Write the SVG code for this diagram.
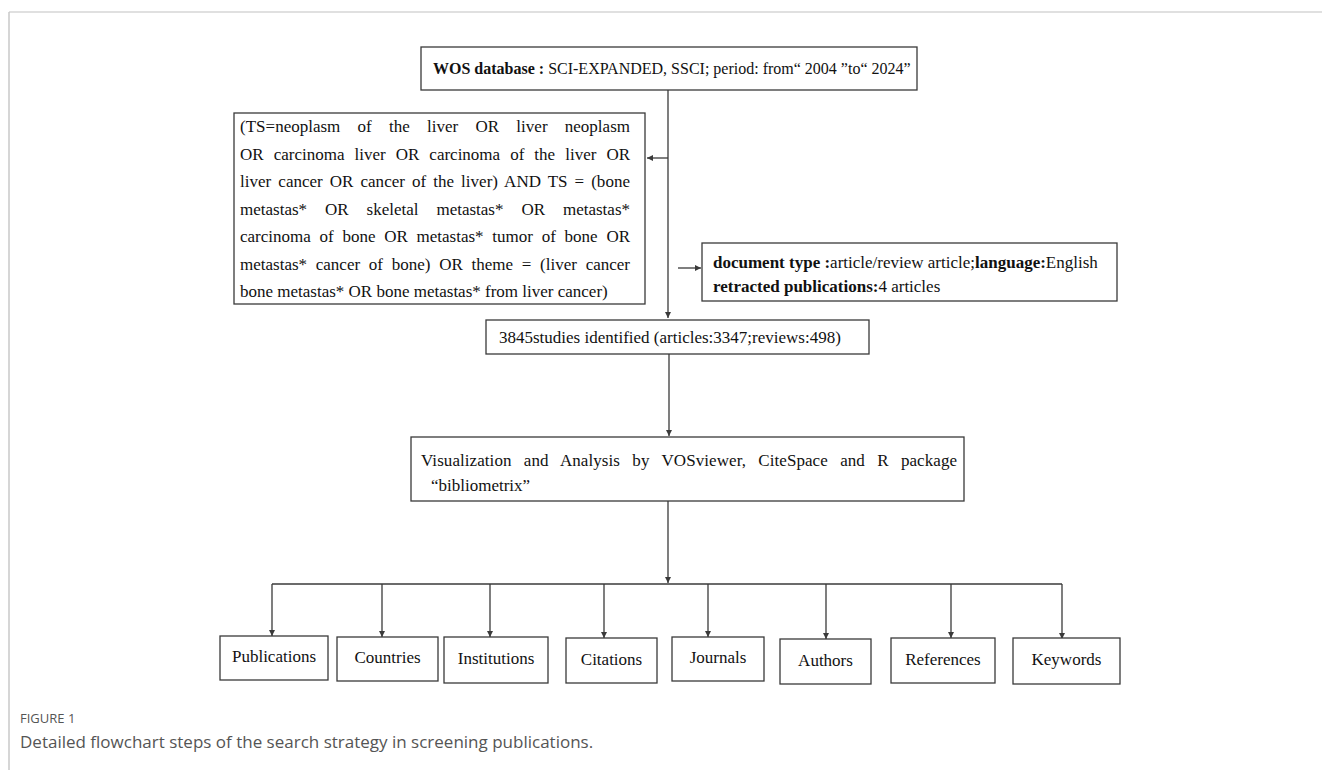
<svg xmlns="http://www.w3.org/2000/svg" width="1322" height="770" viewBox="0 0 1322 770">
<style>
.box{fill:#fff;stroke:#3a3a3a;stroke-width:1.3}
.t{font-family:"Liberation Serif","Times New Roman",serif;font-size:17px;fill:#111}
.b{font-weight:bold}
.lbl{font-family:"Liberation Serif","Times New Roman",serif;font-size:17px;fill:#111;text-anchor:middle}
.ln{fill:none;stroke:#3a3a3a;stroke-width:1.3}
.cap1{font-family:"Open Sans",sans-serif;font-size:13px;fill:#555}
.cap2{font-family:"Open Sans",sans-serif;font-size:17px;fill:#555}
</style>
<defs>
<marker id="ah" markerUnits="userSpaceOnUse" markerWidth="8" markerHeight="8" refX="6" refY="3" orient="auto">
<path d="M0,0 L6,3 L0,6 Z" fill="#3a3a3a"/>
</marker>
</defs>
<rect width="1322" height="770" fill="#fff"/>
<g id="frame">
<line x1="9" y1="12" x2="1322" y2="12" stroke="#e0e0e0" stroke-width="2"/>
<line x1="9" y1="12" x2="9" y2="770" stroke="#c8c8c8" stroke-width="1.5"/>
</g>
<g id="connectors">
<line class="ln" x1="668" y1="90" x2="668" y2="318" marker-end="url(#ah)"/>
<line class="ln" x1="668" y1="158" x2="647" y2="158" marker-end="url(#ah)"/>
<line class="ln" x1="678" y1="268" x2="701" y2="268" marker-end="url(#ah)"/>
<line class="ln" x1="669" y1="354" x2="669" y2="436" marker-end="url(#ah)"/>
<line class="ln" x1="668" y1="501" x2="668" y2="583" marker-end="url(#ah)"/>
<line class="ln" x1="272" y1="584" x2="1062" y2="584"/>
<line class="ln" x1="272" y1="584" x2="272" y2="636" marker-end="url(#ah)"/>
<line class="ln" x1="382" y1="584" x2="382" y2="637" marker-end="url(#ah)"/>
<line class="ln" x1="490" y1="584" x2="490" y2="637" marker-end="url(#ah)"/>
<line class="ln" x1="604" y1="584" x2="604" y2="638" marker-end="url(#ah)"/>
<line class="ln" x1="708" y1="584" x2="708" y2="637" marker-end="url(#ah)"/>
<line class="ln" x1="826" y1="584" x2="826" y2="639" marker-end="url(#ah)"/>
<line class="ln" x1="951" y1="584" x2="951" y2="638" marker-end="url(#ah)"/>
<line class="ln" x1="1062" y1="584" x2="1062" y2="639" marker-end="url(#ah)"/>
</g>
<g id="wos">
<rect class="box" x="421" y="47" width="496" height="43"/>
<text class="t" x="433" y="74" font-size="16" style="font-size:16px"><tspan class="b">WOS database :</tspan> SCI-EXPANDED, SSCI; period: from“ 2004 ”to“ 2024”</text>
</g>
<g id="query">
<rect class="box" x="234" y="113" width="411" height="191"/>
<text class="t" x="240" y="132" textLength="390" lengthAdjust="spacing" word-spacing="13">(TS=neoplasm of the liver OR liver neoplasm</text>
<text class="t" x="240" y="159.5" textLength="390" lengthAdjust="spacing" word-spacing="5.8">OR carcinoma liver OR carcinoma of the liver OR</text>
<text class="t" x="240" y="187" textLength="390" lengthAdjust="spacing" word-spacing="2.7">liver cancer OR cancer of the liver) AND TS = (bone</text>
<text class="t" x="240" y="214.5" textLength="390" lengthAdjust="spacing" word-spacing="13.7">metastas* OR skeletal metastas* OR metastas*</text>
<text class="t" x="240" y="242" textLength="390" lengthAdjust="spacing" word-spacing="4.5">carcinoma of bone OR metastas* tumor of bone OR</text>
<text class="t" x="240" y="269.5" textLength="390" lengthAdjust="spacing" word-spacing="4.5">metastas* cancer of bone) OR theme = (liver cancer</text>
<text class="t" x="240" y="297">bone metastas* OR bone metastas* from liver cancer)</text>
</g>
<g id="filter">
<rect class="box" x="702" y="243" width="415" height="58"/>
<text class="t" x="713" y="268"><tspan class="b">document type :</tspan>article/review article;<tspan class="b">language:</tspan>English</text>
<text class="t" x="713" y="292"><tspan class="b">retracted publications:</tspan>4 articles</text>
</g>
<g id="studies">
<rect class="box" x="486" y="320" width="383" height="34"/>
<text class="t" x="499" y="343">3845studies identified (articles:3347;reviews:498)</text>
</g>
<g id="visual">
<rect class="box" x="411" y="437" width="553" height="64"/>
<text class="t" x="421" y="466" textLength="536" lengthAdjust="spacing" word-spacing="8">Visualization and Analysis by VOSviewer, CiteSpace and R package</text>
<text class="t" x="431" y="491">“bibliometrix”</text>
</g>
<g id="publications"><rect class="box" x="220" y="636" width="108" height="44"/><text class="lbl" x="274" y="662">Publications</text></g>
<g id="countries"><rect class="box" x="337" y="637" width="101" height="44"/><text class="lbl" x="387.5" y="663">Countries</text></g>
<g id="institutions"><rect class="box" x="444" y="637" width="104" height="46"/><text class="lbl" x="496" y="664">Institutions</text></g>
<g id="citations"><rect class="box" x="566" y="638" width="91" height="45"/><text class="lbl" x="611.5" y="665">Citations</text></g>
<g id="journals"><rect class="box" x="672" y="637" width="92" height="44"/><text class="lbl" x="718" y="663">Journals</text></g>
<g id="authors"><rect class="box" x="780" y="639" width="91" height="45"/><text class="lbl" x="825.5" y="666">Authors</text></g>
<g id="references"><rect class="box" x="891" y="638" width="104" height="45"/><text class="lbl" x="943" y="665">References</text></g>
<g id="keywords"><rect class="box" x="1013" y="638" width="107" height="46"/><text class="lbl" x="1066.5" y="665">Keywords</text></g>
<g id="caption">
<text class="cap1" x="20" y="723">FIGURE 1</text>
<text class="cap2" x="20" y="748">Detailed flowchart steps of the search strategy in screening publications.</text>
</g>
</svg>
